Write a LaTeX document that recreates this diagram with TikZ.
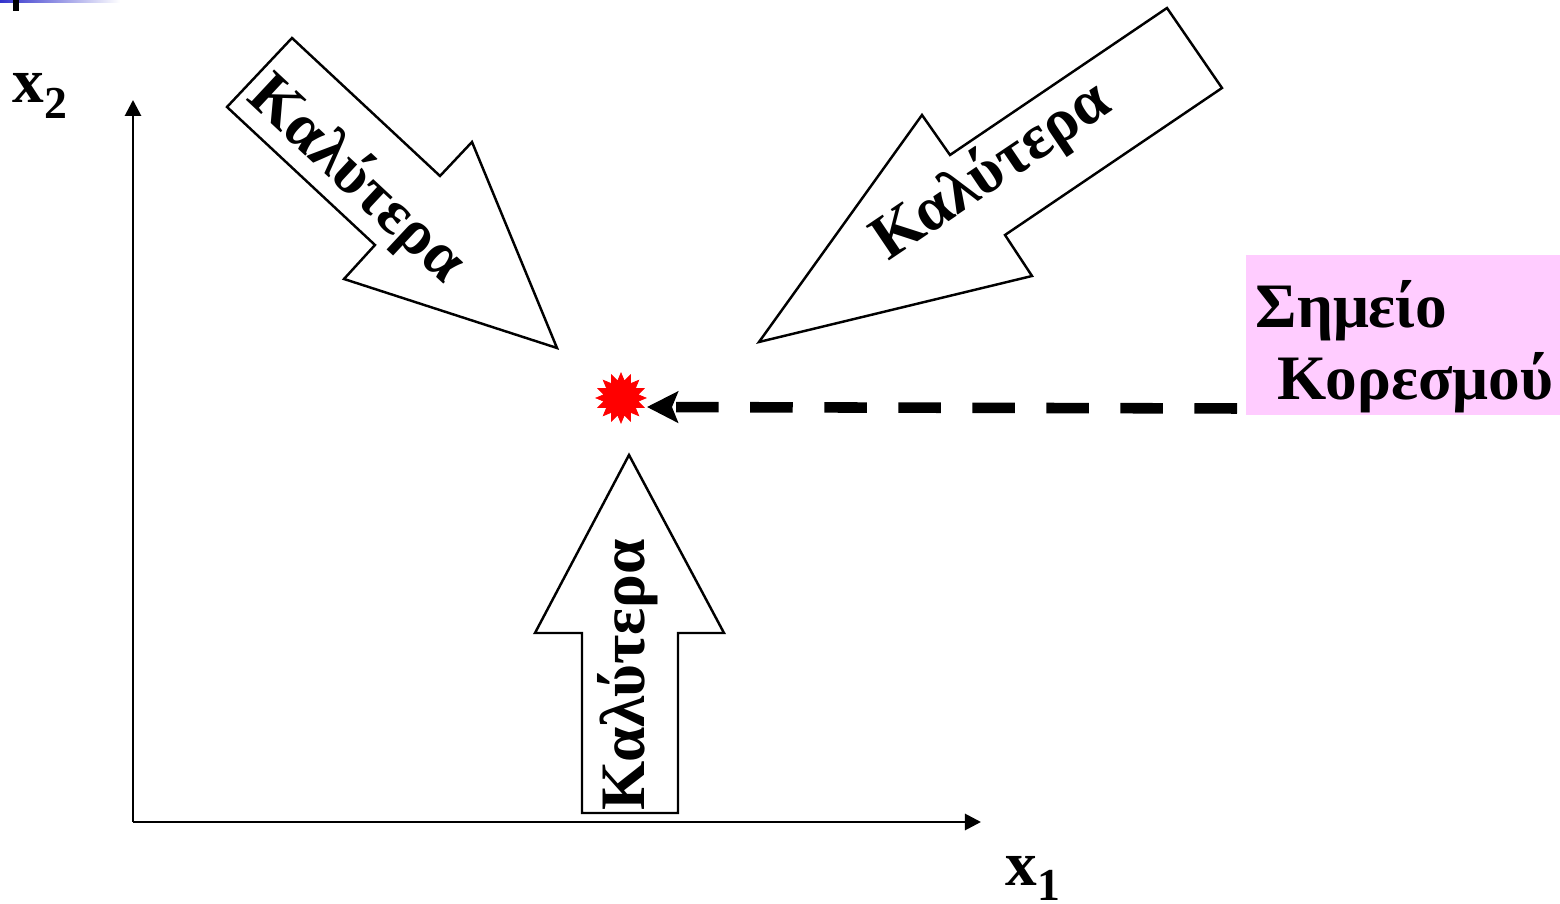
\documentclass[tikz,border=0pt]{standalone}
\usepackage{fontspec}
\setmainfont{Liberation Serif}
\usepackage{xcolor}
\usetikzlibrary{arrows.meta, shapes.geometric}
\definecolor{satPink}{HTML}{FFCCFF}
\definecolor{slideBlue}{HTML}{3333CC}

\begin{document}
\begin{tikzpicture}[x=0.01cm, y=-0.01cm, font=\fontsize{18}{20.5}\selectfont\bfseries,
  axis/.style={line width=0.8pt, -{Triangle[length=0.16cm, width=0.16cm]}},
  fatarrow/.style={draw=black, fill=white, line width=0.7pt, line join=miter},
  better/.style={inner sep=0pt},
  lbl/.style={anchor=base west, inner sep=0pt},
  satbox/.style={fill=satPink, anchor=north west, minimum width=3.15cm, minimum height=1.6cm, text width=2.95cm, text height=0.71cm, align=left, inner xsep=0.1cm, inner ysep=0pt},
  satpt/.style={star, star points=16, star point ratio=1.45, fill=red, draw=red, line width=0.2pt, minimum size=0.5cm, inner sep=0pt},
  satline/.style={line width=3pt, dash pattern=on 0.425cm off 0.315cm, -{Stealth[length=0.31cm, width=0.31cm, inset=0.06cm]}}]
\useasboundingbox (0,0) rectangle (1560,904);
\shade[left color=slideBlue, right color=white] (0,0) rectangle (120,3);
\fill (13,0) rectangle (19,11);
\coordinate (O) at (133,822);
\coordinate (x1end) at (981,822);
\coordinate (x2end) at (133,100);
\draw[axis] (O) -- (x1end);
\draw[axis] (O) -- (x2end);
\node[lbl] (xtwo) at (12,103) {x\raisebox{-4.5pt}{\fontsize{13}{13}\selectfont 2}};
\node[lbl] (xone) at (1005,886) {x\raisebox{-4pt}{\fontsize{13}{13}\selectfont 1}};
\draw[fatarrow] (292,38) -- (227,107) -- (375,245) -- (344,279) -- (557,348) -- (472,142) -- (440,176) -- cycle;
\draw[fatarrow] (1167,8) -- (1222,88) -- (1005,235) -- (1032,276) -- (759,342) -- (922,115) -- (950,155) -- cycle;
\draw[fatarrow] (629,455) -- (535,633) -- (582,633) -- (582,813) -- (678,813) -- (678,633) -- (724,633) -- cycle;
\node[better, rotate=-43] (betterA) at (356,180) {Καλύτερα};
\node[better, rotate=34] (betterB) at (992,172) {Καλύτερα};
\node[better, rotate=90] (betterC) at (628,675) {Καλύτερα};
\node[satpt] (sat) at (621,398) {};
\node[satbox] (box) at (1245,254) {Σημείο\\\hspace*{0.22cm}Κορεσμού};
\draw[satline] ([shift={(-8,-7)}]box.south west) -- ([shift={(0,9)}]sat.east);
\end{tikzpicture}
\end{document}
